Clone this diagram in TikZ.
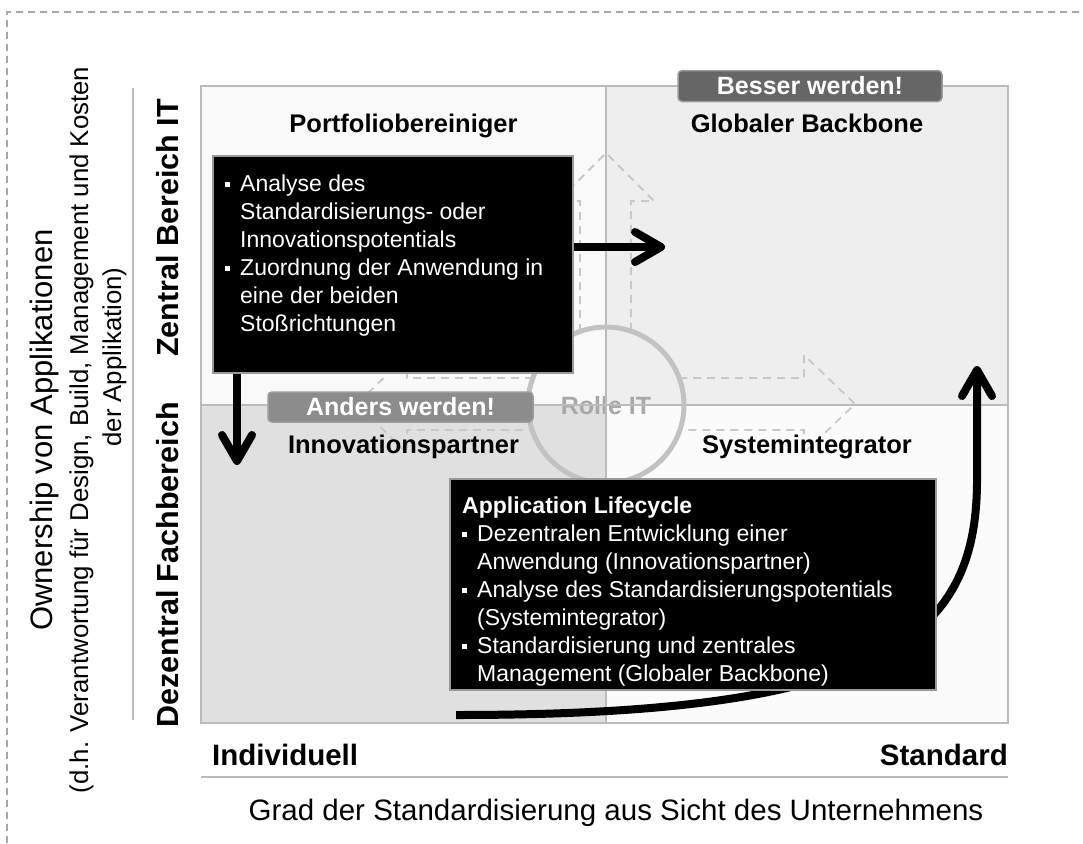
\documentclass[tikz,border=0pt]{standalone}
\usepackage{fontspec}
\setmainfont{Liberation Sans}
\usetikzlibrary{arrows.meta}
\definecolor{framegray}{HTML}{A8A8A8}
\definecolor{qTLc}{HTML}{F9F9F9}
\definecolor{qTRc}{HTML}{EEEEEE}
\definecolor{qBLc}{HTML}{E0E0E0}
\definecolor{qBRc}{HTML}{FBFBFB}
\definecolor{linegray}{HTML}{BBBBBB}
\definecolor{dashgray}{HTML}{C8C8C8}
\definecolor{ringgray}{HTML}{C2C2C2}
\definecolor{rolegray}{HTML}{A8A8A8}
\definecolor{tagdarkc}{HTML}{666666}
\definecolor{taglightc}{HTML}{8C8C8C}
\definecolor{tagedge}{HTML}{9C9C9C}
\definecolor{boxedge}{HTML}{999999}
\newcommand{\myfs}[2]{\fontsize{#1}{#2}\selectfont}
\newcommand{\mybul}{\makebox[15pt][l]{\rule[4.5pt]{5pt}{5pt}}}
\newcommand{\myind}{\hspace*{15pt}}
\begin{document}
\begin{tikzpicture}[x=1pt,y=-1pt,
  frameline/.style={draw=framegray, line width=1.2pt, dash pattern=on 7pt off 5pt},
  qline/.style={draw=linegray, line width=1.8pt},
  bgarrow/.style={draw=dashgray, line width=1.8pt, dash pattern=on 8pt off 6pt},
  ring/.style={draw=ringgray, line width=5pt},
  qtitle/.style={font=\myfs{25.5}{30}\bfseries, inner sep=0pt, anchor=base},
  roletext/.style={font=\myfs{25}{30}\bfseries, text=rolegray, inner sep=0pt},
  tagdark/.style={fill=tagdarkc, draw=tagedge, line width=1.5pt, rounded corners=4pt,
    text=white, font=\myfs{25}{30}\bfseries, minimum width=264pt, minimum height=31pt, inner sep=0pt},
  taglight/.style={fill=taglightc, draw=tagedge, line width=1.5pt, rounded corners=4pt,
    text=white, font=\myfs{25}{30}\bfseries, minimum width=265pt, minimum height=30pt, inner sep=0pt},
  blackbox/.style={fill=black, draw=boxedge, line width=2pt, inner sep=0pt, anchor=north west},
  boxtext/.style={font=\myfs{23}{28}, text=white, align=left, inner sep=0pt, anchor=north west},
  bigarrow/.style={line width=8pt, -{Straight Barb[length=26pt,width=30pt,round]}},
  sidelabel/.style={font=\myfs{30.5}{36}\bfseries, rotate=90, anchor=base, inner sep=0pt},
  ownlabel/.style={rotate=90, anchor=base, inner sep=0pt},
  axislabel/.style={font=\myfs{29.5}{34}\bfseries, inner sep=0pt},
  axisline/.style={draw=linegray, line width=2pt}
]
\useasboundingbox (0,0) rectangle (1083,843);

% dashed outer frame (top and left)
\coordinate (fbl) at (7,843);
\coordinate (ftl) at (7,12);
\coordinate (ftr) at (1083,12);
\draw[frameline] (fbl) -- (ftl) -- (ftr);

% quadrant fills
\fill[qTLc] (201,86) rectangle (606,405);
\fill[qTRc] (606,86) rectangle (1008,405);
\fill[qBLc] (201,405) rectangle (606,723);
\fill[qBRc] (606,405) rectangle (1008,723);

% dashed background arrows around the circle
\draw[bgarrow] (580,332) -- (580,201) -- (558,201) -- (606,153) -- (654,201) -- (631,201) -- (631,332);
\draw[bgarrow] (679,378) -- (804,378) -- (804,355) -- (855,404) -- (804,453) -- (804,430) -- (679,430);
\draw[bgarrow] (533,378) -- (407,378) -- (407,355) -- (357,404) -- (407,453) -- (407,430) -- (533,430);

% role text (under the lines)
\node[roletext] (rolle) at (606,406) {Rolle IT};

% quadrant lines
\draw[qline] (201,86) rectangle (1008,723);
\draw[qline] (606,86) -- (606,723);
\draw[qline] (201,405) -- (1008,405);

% ring
\draw[ring] (606,405) circle[radius=78pt];

% quadrant titles
\node[qtitle] (tTL) at (403.5,132) {Portfoliobereiniger};
\node[qtitle] (tTR) at (807,132) {Globaler Backbone};
\node[qtitle] (tBL) at (403.5,453) {Innovationspartner};
\node[qtitle] (tBR) at (807,453) {Systemintegrator};

% tags
\node[tagdark] (besser) at (810,86) {Besser werden!};
\node[taglight] (anders) at (400.5,407) {Anders werden!};

% long curved arrow (behind lifecycle box)
\coordinate (cstart) at (456,715);
\coordinate (cmid) at (977,480);
\coordinate (cend) at (977,366);
\draw[bigarrow] (cstart) .. controls (880,715) and (977,640) .. (cmid) -- (cend);

% box 1
\node[blackbox, minimum width=360pt, minimum height=217pt] (box1) at (212,155) {};
\node[boxtext] (box1text) at (225,175) {%
\mybul Analyse des\\
\myind Standardisierungs- oder\\
\myind Innovationspotentials\\
\mybul Zuordnung der Anwendung in\\
\myind eine der beiden\\
\myind Stoßrichtungen};

% box 2
\node[blackbox, minimum width=486pt, minimum height=211pt] (box2) at (449,478) {};
\node[boxtext] (box2text) at (462,496.5) {%
\textbf{Application Lifecycle}\\
\mybul Dezentralen Entwicklung einer\\
\myind Anwendung (Innovationspartner)\\
\mybul Analyse des Standardisierungspotentials\\
\myind (Systemintegrator)\\
\mybul Standardisierung und zentrales\\
\myind Management (Globaler Backbone)};

% arrows from box 1
\coordinate (ra1) at (665,247);
\coordinate (da1) at (237,465);
\draw[bigarrow] (box1.east |- ra1) -- (ra1);
\draw[bigarrow] (box1.south -| da1) -- (da1);

% vertical axis
\coordinate (va1) at (133,88);
\coordinate (va2) at (133,720);
\draw[axisline] (va1) -- (va2);
\node[sidelabel] (zentral) at (178,228) {Zentral Bereich IT};
\node[sidelabel] (dezentral) at (178,565) {Dezentral Fachbereich};

\node[ownlabel, font=\myfs{31}{37}] (own1) at (52,430) {Ownership von Applikationen};
\node[ownlabel, font=\myfs{25.8}{31}] (own2) at (88,430) {(d.h. Verantwortung für Design, Build, Management und Kosten};
\node[ownlabel, font=\myfs{25.8}{31}] (own3) at (121,357) {der Applikation)};

% horizontal axis
\coordinate (ha1) at (201,777);
\coordinate (ha2) at (1008,777);
\draw[axisline] (ha1) -- (ha2);
\node[axislabel, anchor=base west] (indiv) at (212,765) {Individuell};
\node[axislabel, anchor=base east] (stand) at (1008,765) {Standard};
\node[font=\myfs{29.5}{34}, inner sep=0pt, anchor=base] (grad) at (616,820) {Grad der Standardisierung aus Sicht des Unternehmens};
\end{tikzpicture}
\end{document}
